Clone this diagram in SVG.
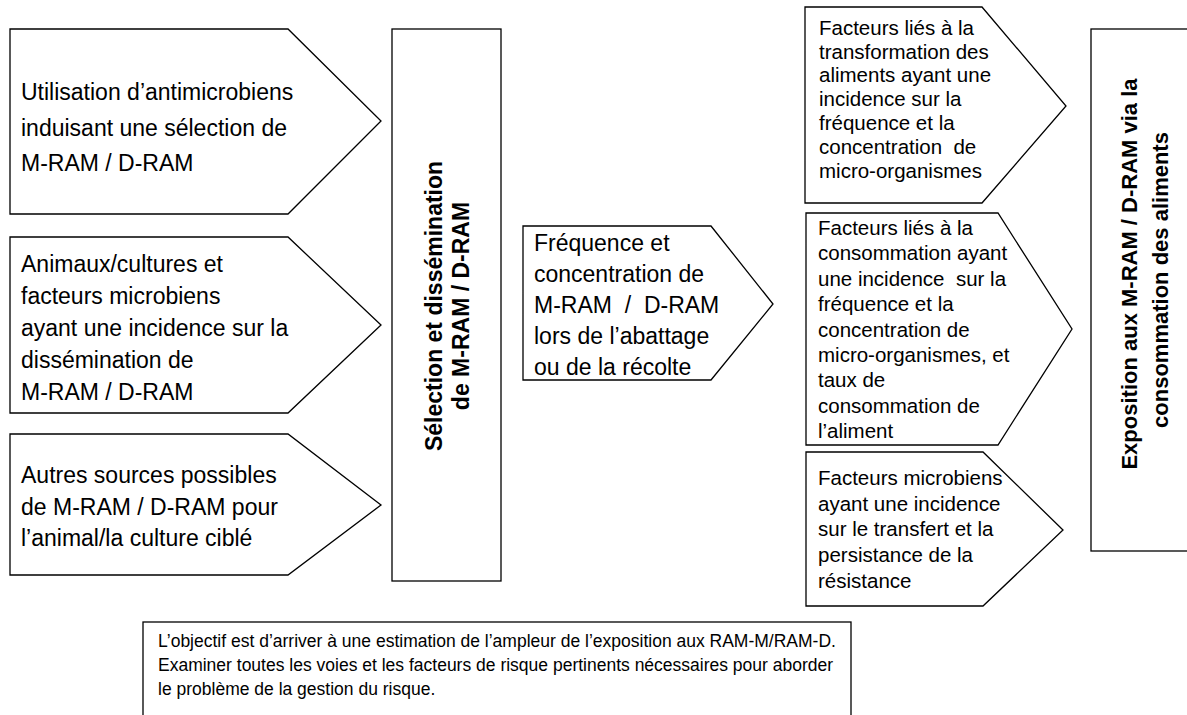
<svg xmlns="http://www.w3.org/2000/svg" width="1187" height="715" viewBox="0 0 1187 715">
<style>
.shape{fill:#fff;stroke:#000;stroke-width:1.3}
.t{font-family:"Liberation Sans",Arial,sans-serif;fill:#000;white-space:pre}
.l{font-size:23px}
.r{font-size:20.5px}
.b{font-size:17.5px}
.v{font-weight:bold;text-anchor:middle}
</style>
<rect x="0" y="0" width="1187" height="715" fill="#fff"/>
<g id="connectors"/>
<g id="n1">
<polygon class="shape" points="10,29 288,29 381,121 288,214 10,214"/>
<text class="t l"><tspan x="21" y="100">Utilisation d’antimicrobiens</tspan><tspan x="21" y="136">induisant une sélection de</tspan><tspan x="21" y="171">M-RAM / D-RAM</tspan></text>
</g>
<g id="n2">
<polygon class="shape" points="10,237 288,237 381,325 288,413 10,413"/>
<text class="t l"><tspan x="21" y="272">Animaux/cultures et</tspan><tspan x="21" y="304">facteurs microbiens</tspan><tspan x="21" y="336">ayant une incidence sur la</tspan><tspan x="21" y="368">dissémination de</tspan><tspan x="21" y="400">M-RAM / D-RAM</tspan></text>
</g>
<g id="n3">
<polygon class="shape" points="10,434 288,434 381,505 288,575 10,575"/>
<text class="t l"><tspan x="21" y="483">Autres sources possibles</tspan><tspan x="21" y="514.5">de M-RAM / D-RAM pour</tspan><tspan x="21" y="546">l’animal/la culture ciblé</tspan></text>
</g>
<g id="n4">
<rect class="shape" x="392" y="29" width="109" height="552"/>
<text class="t v" font-size="23" transform="translate(442,306) rotate(-90)" x="0" y="0">Sélection et dissémination</text>
<text class="t v" font-size="23" transform="translate(469,306) rotate(-90)" x="0" y="0">de M-RAM / D-RAM</text>
</g>
<g id="n5">
<polygon class="shape" points="523,226 711,226 773,304 711,380 523,380"/>
<text class="t l"><tspan x="534" y="251">Fréquence et</tspan><tspan x="534" y="282">concentration de</tspan><tspan x="534" y="313">M-RAM  /  D-RAM</tspan><tspan x="534" y="344">lors de l’abattage</tspan><tspan x="534" y="375">ou de la récolte</tspan></text>
</g>
<g id="n6">
<polygon class="shape" points="805,7 982,7 1066,106 982,203 805,203"/>
<text class="t r"><tspan x="819" y="35">Facteurs liés à la</tspan><tspan x="819" y="59">transformation des</tspan><tspan x="819" y="82">aliments ayant une</tspan><tspan x="819" y="106">incidence sur la</tspan><tspan x="819" y="130">fréquence et la</tspan><tspan x="819" y="154">concentration  de</tspan><tspan x="819" y="178">micro-organismes</tspan></text>
</g>
<g id="n7">
<polygon class="shape" points="806,213 998,213 1072,329 998,445 806,445"/>
<text class="t r"><tspan x="818" y="235">Facteurs liés à la</tspan><tspan x="818" y="260.4">consommation ayant</tspan><tspan x="818" y="285.8">une incidence  sur la</tspan><tspan x="818" y="311.2">fréquence et la</tspan><tspan x="818" y="336.6">concentration de</tspan><tspan x="818" y="362">micro-organismes, et</tspan><tspan x="818" y="387.4">taux de</tspan><tspan x="818" y="412.8">consommation de</tspan><tspan x="818" y="438.2">l’aliment</tspan></text>
</g>
<g id="n8">
<polygon class="shape" points="806,452 983,452 1063,530 983,606 806,606"/>
<text class="t r"><tspan x="818" y="485">Facteurs microbiens</tspan><tspan x="818" y="511">ayant une incidence</tspan><tspan x="818" y="536">sur le transfert et la</tspan><tspan x="818" y="562">persistance de la</tspan><tspan x="818" y="588">résistance</tspan></text>
</g>
<g id="n9">
<rect class="shape" x="1091" y="29" width="110" height="522"/>
<text class="t v" font-size="22" transform="translate(1137,274) rotate(-90)" x="0" y="0">Exposition aux M-RAM / D-RAM via la</text>
<text class="t v" font-size="22" transform="translate(1168,280) rotate(-90)" x="0" y="0">consommation des aliments</text>
</g>
<g id="n10">
<rect class="shape" x="143" y="622" width="708" height="110"/>
<text class="t b"><tspan x="158" y="647">L’objectif est d’arriver à une estimation de l’ampleur de l’exposition aux RAM-M/RAM-D.</tspan><tspan x="158" y="671">Examiner toutes les voies et les facteurs de risque pertinents nécessaires pour aborder</tspan><tspan x="158" y="695">le problème de la gestion du risque.</tspan></text>
</g>
</svg>
